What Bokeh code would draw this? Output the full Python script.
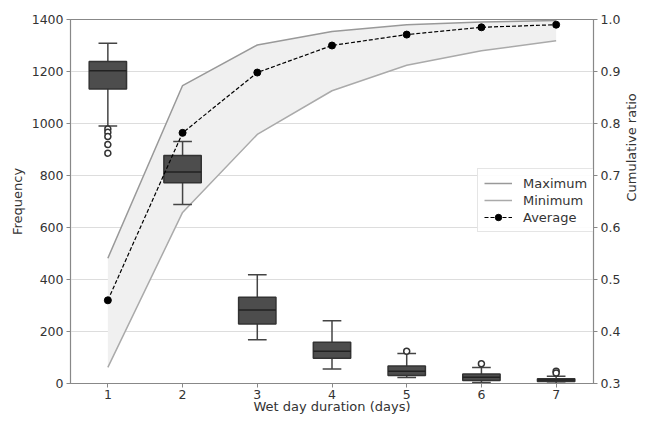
import math
from bokeh.plotting import figure
from bokeh.models import Range1d, LinearAxis, Legend, LegendItem, FixedTicker, PrintfTickFormatter
from bokeh.embed import file_html
from bokeh.resources import INLINE

# ---- data ----
days = [1, 2, 3, 4, 5, 6, 7]
whisker_low = [990, 688, 168, 56, 23, 4, 1]
q1 = [1133, 772, 229, 97, 31, 12, 8]
median = [1203, 813, 283, 124, 47, 24, 13]
q3 = [1238, 877, 332, 159, 67, 37, 18]
whisker_high = [1309, 931, 418, 241, 115, 62, 28]
outlier_day = [1, 1, 1, 1, 1, 5, 6, 7, 7]
outlier_val = [979, 966, 950, 919, 886, 124, 76, 47, 40]

ratio_max = [0.541, 0.873, 0.951, 0.977, 0.990, 0.995, 0.998]
ratio_min = [0.331, 0.629, 0.779, 0.863, 0.912, 0.940, 0.959]
ratio_avg = [0.460, 0.782, 0.898, 0.950, 0.971, 0.985, 0.990]

freq_ticks = [0, 200, 400, 600, 800, 1000, 1200, 1400]
ratio_ticks = [0.3, 0.4, 0.5, 0.6, 0.7, 0.8, 0.9, 1.0]

FONT = "DejaVu Sans"
TXT = "#333333"
SPINE = "#888888"

p = figure(width=649, height=421, x_range=Range1d(0.5, 7.5), y_range=Range1d(0, 1400),
           output_backend="svg", toolbar_location=None,
           min_border_left=70, min_border_right=55, min_border_top=19, min_border_bottom=38)
p.extra_y_ranges = {"ratio": Range1d(0.3, 1.0)}
p.outline_line_color = SPINE
p.outline_line_width = 1.2
p.xgrid.visible = False
p.ygrid.grid_line_color = "#dddddd"
p.ygrid.grid_line_width = 1

# filled band between min and max
p.varea(x=days, y1=ratio_min, y2=ratio_max, y_range_name="ratio", fill_color="#f0f0f0")
r_max = p.line(days, ratio_max, y_range_name="ratio", line_color="#999999", line_width=1.5)
r_min = p.line(days, ratio_min, y_range_name="ratio", line_color="#aaaaaa", line_width=1.5)

# boxplots
cap_l = [d - 0.125 for d in days]
cap_r = [d + 0.125 for d in days]
box_l = [d - 0.25 for d in days]
box_r = [d + 0.25 for d in days]
p.segment(x0=days, y0=q3, x1=days, y1=whisker_high, line_color="#444444", line_width=1.5)
p.segment(x0=days, y0=whisker_low, x1=days, y1=q1, line_color="#444444", line_width=1.5)
p.segment(x0=cap_l, y0=whisker_high, x1=cap_r, y1=whisker_high, line_color="#444444", line_width=1.5)
p.segment(x0=cap_l, y0=whisker_low, x1=cap_r, y1=whisker_low, line_color="#444444", line_width=1.5)
p.vbar(x=days, width=0.5, top=q3, bottom=q1, fill_color="#4d4d4d", line_color="#333333", line_width=1.5)
p.segment(x0=box_l, y0=median, x1=box_r, y1=median, line_color="#222222", line_width=1.5)
p.scatter(outlier_day, outlier_val, size=6, marker="circle", fill_color="white",
          line_color="#333333", line_width=1.5)

# average
r_avg = p.line(days, ratio_avg, y_range_name="ratio", line_color="black", line_width=1.2,
               line_dash="4 2")
r_avg_pt = p.scatter(days, ratio_avg, y_range_name="ratio", size=7, marker="circle",
                     fill_color="black", line_color="black")

# axes
p.xaxis.ticker = FixedTicker(ticks=days)
p.yaxis.ticker = FixedTicker(ticks=freq_ticks)
p.xaxis.axis_label = "Wet day duration (days)"
p.yaxis.axis_label = "Frequency"

right = LinearAxis(y_range_name="ratio", ticker=FixedTicker(ticks=ratio_ticks),
                   formatter=PrintfTickFormatter(format="%.1f"),
                   axis_label="Cumulative ratio")
p.add_layout(right, "right")

for ax in p.axis:
    ax.axis_line_color = SPINE
    ax.major_tick_line_color = SPINE
    ax.major_tick_in = 0
    ax.major_tick_out = 4
    ax.minor_tick_line_color = None
    ax.major_label_text_font = FONT
    ax.major_label_text_font_size = "12.5px"
    ax.major_label_text_color = TXT
    ax.axis_label_text_font = FONT
    ax.axis_label_text_font_size = "13px"
    ax.axis_label_text_font_style = "normal"
    ax.axis_label_text_color = TXT
    ax.major_label_standoff = 3
    ax.axis_label_standoff = 4

p.xaxis.major_label_standoff = 2
p.xaxis.axis_label_standoff = -3
right.axis_label_standoff = 8
right.axis_label_orientation = math.pi / 2

legend = Legend(items=[
    LegendItem(label="Maximum", renderers=[r_max]),
    LegendItem(label="Minimum", renderers=[r_min]),
    LegendItem(label="Average", renderers=[r_avg, r_avg_pt]),
], location=(407, 151))
legend.label_text_font = FONT
legend.label_text_font_size = "13px"
legend.label_text_color = TXT
legend.glyph_width = 28
legend.glyph_height = 16
legend.label_height = 16
legend.spacing = 1
legend.padding = 6
legend.label_standoff = 11
legend.margin = 0
legend.border_line_color = "#cccccc"
legend.background_fill_alpha = 0.9
p.add_layout(legend)

open("out.html", "w").write(file_html(p, INLINE))
